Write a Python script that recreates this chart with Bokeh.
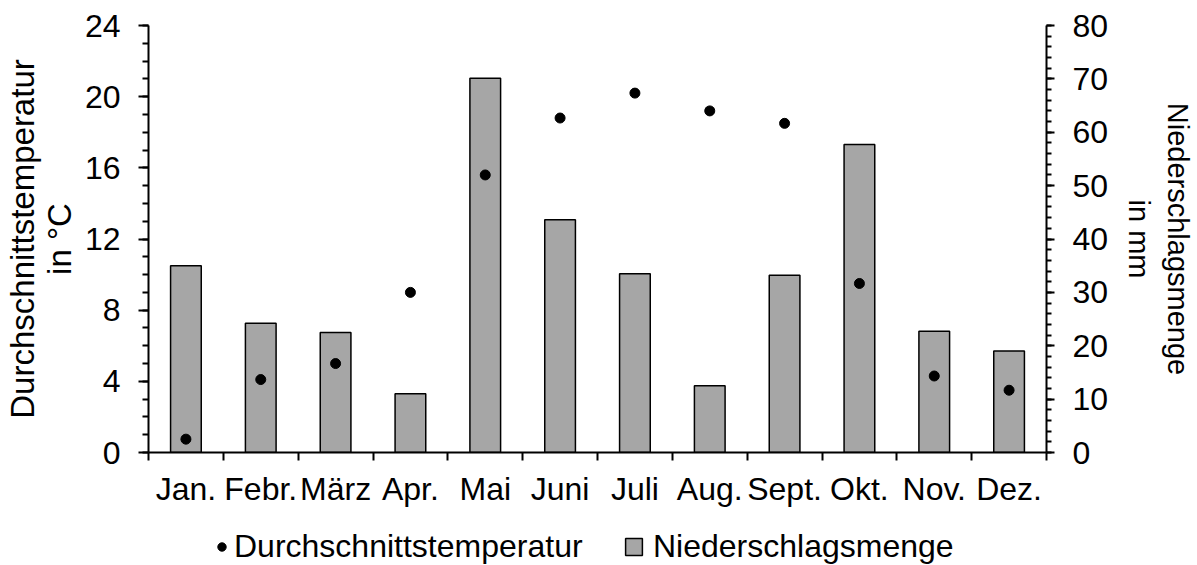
from bokeh.plotting import figure
from bokeh.layouts import column
from bokeh.models import Range1d, LinearAxis, FixedTicker, SingleIntervalTicker, Legend, LegendItem
from bokeh.embed import file_html
from bokeh.resources import INLINE

months = ["Jan.", "Febr.", "März", "Apr.", "Mai", "Juni", "Juli", "Aug.", "Sept.", "Okt.", "Nov.", "Dez."]
temperature = [0.75, 4.1, 5.0, 9.0, 15.6, 18.8, 20.2, 19.2, 18.5, 9.5, 4.3, 3.5]
precipitation = [35.0, 24.2, 22.5, 11.0, 70.1, 43.6, 33.5, 12.5, 33.2, 57.7, 22.7, 19.0]

FONT = "Liberation Sans"
FS = "32px"
BAR_FILL = "#A6A6A6"

xs = [i + 0.5 for i in range(len(months))]

p = figure(width=1197, height=512, x_range=Range1d(0, len(months)), y_range=Range1d(0, 24),
           output_backend="svg", toolbar_location=None,
           min_border_left=148, min_border_right=150, min_border_top=25, min_border_bottom=60)
p.extra_y_ranges = {"precip": Range1d(0, 80)}

r_bar = p.vbar(x=xs, top=precipitation, width=0.41, y_range_name="precip",
               fill_color=BAR_FILL, line_color="black", line_width=1.5)
r_dot = p.scatter(x=xs, y=temperature, size=10, color="black")

p.xgrid.visible = False
p.ygrid.visible = False
p.outline_line_color = None

# x axis
xa = p.xaxis[0]
xa.ticker = FixedTicker(ticks=xs, minor_ticks=list(range(len(months) + 1)))
xa.major_label_overrides = {x: m for x, m in zip(xs, months)}
xa.major_tick_out = 0
xa.major_tick_in = 0
xa.minor_tick_out = 8
xa.minor_tick_in = 0
xa.major_label_standoff = 10

# left axis
ya = p.yaxis[0]
ya.ticker = SingleIntervalTicker(interval=4, num_minor_ticks=4)
ya.axis_label = "Durchschnittstemperatur\nin °C"
ya.major_tick_out = 10
ya.major_tick_in = 0
ya.minor_tick_out = 6
ya.minor_tick_in = 0
ya.major_label_standoff = 18
ya.axis_label_standoff = 4

# right axis
ra = LinearAxis(y_range_name="precip", ticker=SingleIntervalTicker(interval=10, num_minor_ticks=5),
                axis_label="Niederschlagsmenge\nin mm")
ra.major_tick_out = 8
ra.major_tick_in = 0
ra.minor_tick_out = 5
ra.minor_tick_in = 0
ra.major_label_standoff = 18
ra.axis_label_standoff = 12
p.add_layout(ra, "right")

for ax in [xa, ya, ra]:
    ax.axis_line_color = "black"
    ax.axis_line_width = 2
    ax.major_tick_line_color = "black"
    ax.major_tick_line_width = 2
    ax.minor_tick_line_color = "black"
    ax.minor_tick_line_width = 2
    ax.major_label_text_font = FONT
    ax.major_label_text_font_size = FS
    ax.major_label_text_color = "black"
    ax.axis_label_text_font = FONT
    ax.axis_label_text_font_style = "normal"
    ax.axis_label_text_color = "black"

ya.axis_label_text_font_size = "33px"
ya.axis_label_text_line_height = 1.0
ra.axis_label_text_font_size = "29px"
ra.axis_label_text_line_height = 1.22

# legend strip below the chart (frame aligned with the chart frame)
lf = figure(width=1197, height=53, x_range=Range1d(0, 1), y_range=Range1d(0, 1),
            output_backend="svg", toolbar_location=None,
            min_border_left=0, min_border_right=0, min_border_top=0, min_border_bottom=0)
lf.axis.visible = False
lf.xgrid.visible = False
lf.ygrid.visible = False
lf.outline_line_color = None
nan = float("nan")
l_dot = lf.scatter(x=[nan], y=[nan], size=10, color="black")
l_bar = lf.vbar(x=[nan], top=[nan], width=0.4, fill_color=BAR_FILL, line_color="black", line_width=1.5)

def make_legend(label, renderer, loc, standoff):
    return Legend(items=[LegendItem(label=label, renderers=[renderer])], location=loc,
                  orientation="horizontal", glyph_width=21, glyph_height=21,
                  label_standoff=standoff, label_text_font=FONT, label_text_font_size=FS,
                  label_text_color="black", padding=0, margin=0, spacing=0,
                  border_line_color=None, background_fill_alpha=0)

lf.add_layout(make_legend("Durchschnittstemperatur", l_dot, (63, 0), 2))
lf.add_layout(make_legend("Niederschlagsmenge", l_bar, (475, 0), 9))

layout = column(p, lf, spacing=0)
open("out.html", "w").write(file_html(layout, INLINE))
